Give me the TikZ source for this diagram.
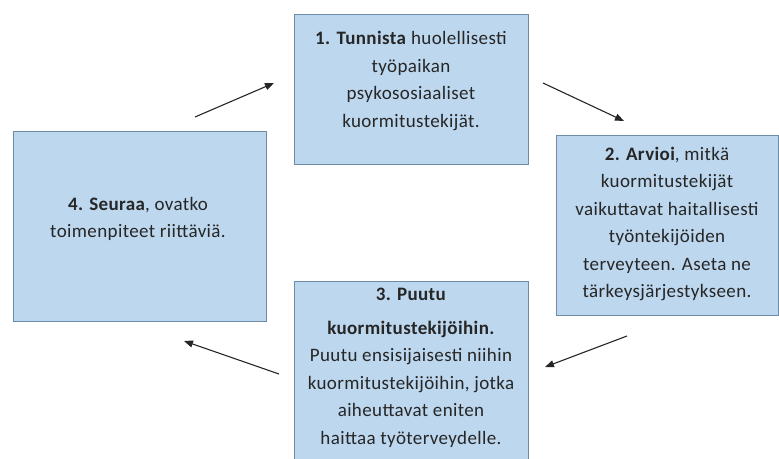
\documentclass[tikz,border=0pt]{standalone}
\usepackage{fontspec}
\setmainfont{Carlito}[LetterSpace=2]
\usepackage{xcolor}
\usetikzlibrary{arrows.meta}

\definecolor{boxfill}{HTML}{BDD7EE}
\definecolor{boxline}{HTML}{6F8CA6}
\definecolor{txtgray}{HTML}{262626}

\tikzset{
    stepbox/.style={draw=boxline, fill=boxfill, line width=0.9pt, inner sep=0pt},
    steptext/.style={align=center, text=txtgray, font=\fontsize{19}{27.5}\selectfont},
    cyclearrow/.style={-{Triangle[length=9pt, width=7pt]}, line width=1.1pt, black!85}
}

\begin{document}
\begin{tikzpicture}[x=1pt, y=-1pt]
        \useasboundingbox (0,0) rectangle (779,458);
        \clip (0,0) rectangle (779,458);
        % the four boxes of the cycle
        \node[stepbox, minimum width=234pt, minimum height=150pt] (tunnista) at (411,89) {};
        \node[stepbox, minimum width=222pt, minimum height=180pt] (arvioi) at (667,225) {};
        \node[stepbox, minimum width=234pt, minimum height=200pt] (puutu) at (411,381) {};
        \node[stepbox, minimum width=253pt, minimum height=190pt] (seuraa) at (139.5,226) {};
        % texts
        \node[steptext] (tunnista-txt) at (411,81) {\textbf{1. Tunnista} huolellisesti\\ työpaikan\\ psykososiaaliset\\ kuormitustekijät.};
        \node[steptext] (arvioi-txt) at (667,224) {\textbf{2. Arvioi}, mitkä\\ kuormitustekijät\\ vaikuttavat haitallisesti\\ työntekijöiden\\ terveyteen. Aseta ne\\ tärkeysjärjestykseen.};
        \node[steptext] (puutu-txt) at (411,368) {\textbf{3. Puutu}\\[6pt] \textbf{kuormitustekijöihin.}\\ Puutu ensisijaisesti niihin\\ kuormitustekijöihin, jotka\\ aiheuttavat eniten\\ haittaa työterveydelle.};
        \node[steptext] (seuraa-txt) at (138,219) {\textbf{4. Seuraa}, ovatko\\ toimenpiteet riittäviä.};
        % arrow ends
        \coordinate (a1s) at (195,117);
        \coordinate (a1e) at (274,83);
        \coordinate (a2s) at (543,83);
        \coordinate (a2e) at (624,121);
        \coordinate (a3s) at (627,336);
        \coordinate (a3e) at (545,367);
        \coordinate (a4s) at (279,374);
        \coordinate (a4e) at (184,341);
        \draw[cyclearrow] (a1s) -- (a1e);
        \draw[cyclearrow] (a2s) -- (a2e);
        \draw[cyclearrow] (a3s) -- (a3e);
        \draw[cyclearrow] (a4s) -- (a4e);
\end{tikzpicture}
\end{document}
